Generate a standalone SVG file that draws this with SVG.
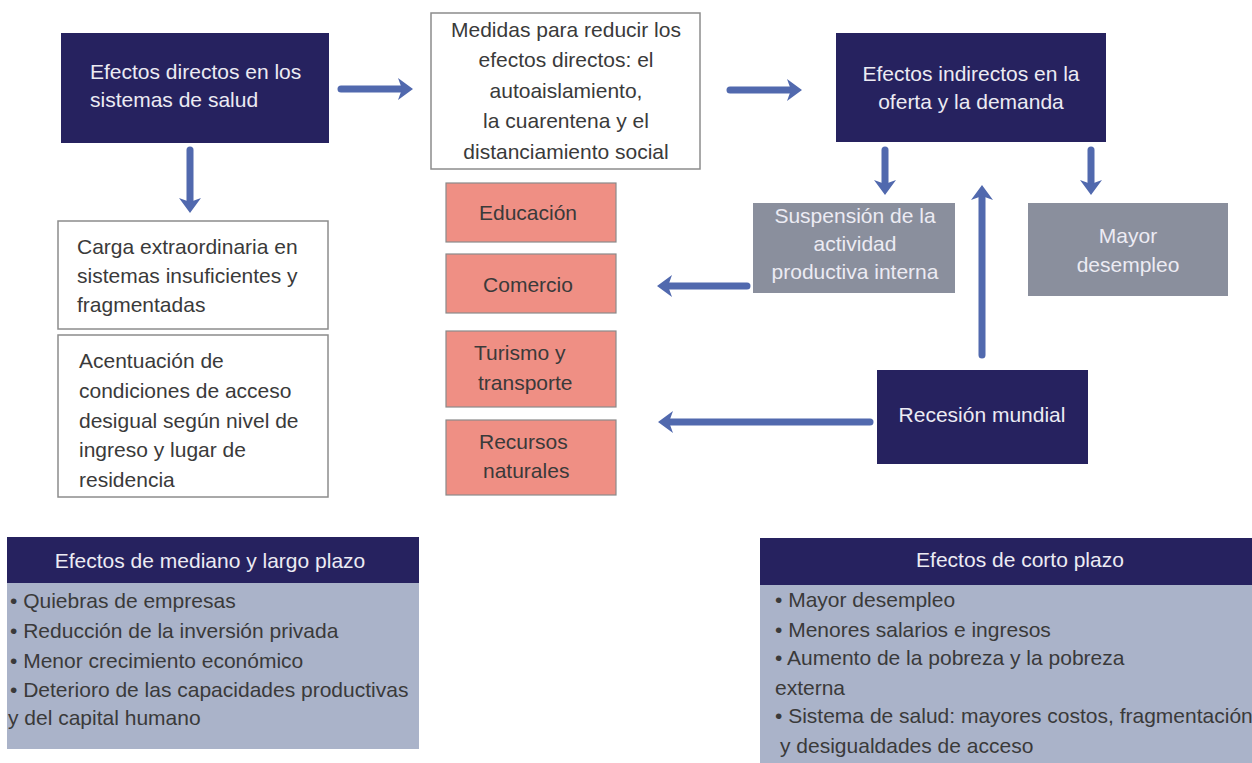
<svg xmlns="http://www.w3.org/2000/svg" width="1252" height="763" viewBox="0 0 1252 763">
<defs>
<style>
text{font-family:"Liberation Sans",Arial,sans-serif;font-size:21px}
.dark{fill:#26225f}
.wt{fill:#ecebf3}
.dk{fill:#3a3a3a}
.wbox{fill:#fff;stroke:#8c8c8c;stroke-width:1.5}
.sbox{fill:#ef8f84;stroke:#8a8a8a;stroke-width:1.2}
.gbox{fill:#8a8f9d}
.body{fill:#aab3c9}
.c{text-anchor:middle}
.conn{stroke:#5169ae;stroke-width:7;stroke-linecap:round;fill:none;marker-end:url(#ah)}
</style>
<marker id="ah" markerUnits="userSpaceOnUse" viewBox="-8 -12 17 24" markerWidth="17" markerHeight="24" refX="0" refY="0" orient="auto">
<path d="M-7,-11 L8,0 L-7,11 L-3,0 Z" fill="#5169ae"/>
</marker>
</defs>
<rect width="1252" height="763" fill="#fff"/>

<g id="connectors">
<path class="conn" d="M341,89 H405"/>
<path class="conn" d="M730,90 H794"/>
<path class="conn" d="M190,150 V205"/>
<path class="conn" d="M885,150 V187"/>
<path class="conn" d="M1091,150 V187"/>
<path class="conn" d="M982,355 V193"/>
<path class="conn" d="M747,286 H665"/>
<path class="conn" d="M870,422 H666"/>
</g>

<g id="n-directos">
<rect class="dark" x="61" y="33" width="268" height="110"/>
<text class="wt" x="90" y="79">Efectos directos en los</text>
<text class="wt" x="90" y="107">sistemas de salud</text>
</g>

<g id="n-medidas">
<rect class="wbox" x="431" y="13" width="269" height="156"/>
<text class="dk c" x="566" y="37">Medidas para reducir los</text>
<text class="dk c" x="566" y="67">efectos directos: el</text>
<text class="dk c" x="566" y="97.5">autoaislamiento,</text>
<text class="dk c" x="566" y="128">la cuarentena y el</text>
<text class="dk c" x="566" y="158.5">distanciamiento social</text>
</g>

<g id="n-indirectos">
<rect class="dark" x="836" y="33" width="270" height="109"/>
<text class="wt c" x="971" y="81">Efectos indirectos en la</text>
<text class="wt c" x="971" y="109">oferta y la demanda</text>
</g>

<g id="n-carga">
<rect class="wbox" x="58" y="221" width="270" height="108"/>
<text class="dk" x="77" y="254">Carga extraordinaria en</text>
<text class="dk" x="77" y="283">sistemas insuficientes y</text>
<text class="dk" x="77" y="312">fragmentadas</text>
</g>

<g id="n-acentuacion">
<rect class="wbox" x="58" y="335" width="270" height="162"/>
<text class="dk" x="79" y="368">Acentuación de</text>
<text class="dk" x="79" y="398">condiciones de acceso</text>
<text class="dk" x="79" y="428">desigual según nivel de</text>
<text class="dk" x="79" y="457">ingreso y lugar de</text>
<text class="dk" x="79" y="487">residencia</text>
</g>

<g id="n-educacion">
<rect class="sbox" x="446" y="183" width="170" height="59"/>
<text class="dk c" x="528" y="220">Educación</text>
</g>
<g id="n-comercio">
<rect class="sbox" x="446" y="254" width="170" height="59"/>
<text class="dk c" x="528" y="292">Comercio</text>
</g>
<g id="n-turismo">
<rect class="sbox" x="446" y="331" width="170" height="76"/>
<text class="dk" x="474" y="360">Turismo y</text>
<text class="dk" x="478" y="390">transporte</text>
</g>
<g id="n-recursos">
<rect class="sbox" x="446" y="420" width="170" height="75"/>
<text class="dk" x="479" y="449">Recursos</text>
<text class="dk" x="483" y="478">naturales</text>
</g>

<g id="n-suspension">
<rect class="gbox" x="753" y="203" width="202" height="90"/>
<text class="wt c" x="855" y="223">Suspensión de la</text>
<text class="wt c" x="855" y="251">actividad</text>
<text class="wt c" x="855" y="279">productiva interna</text>
</g>

<g id="n-desempleo">
<rect class="gbox" x="1028" y="203" width="200" height="93"/>
<text class="wt c" x="1128" y="243">Mayor</text>
<text class="wt c" x="1128" y="272">desempleo</text>
</g>

<g id="n-recesion">
<rect class="dark" x="877" y="370" width="211" height="94"/>
<text class="wt c" x="982" y="422">Recesión mundial</text>
</g>

<g id="n-mediano">
<rect class="body" x="7" y="583" width="412" height="166"/>
<rect class="dark" x="7" y="537" width="412" height="46"/>
<text class="wt c" x="210" y="568">Efectos de mediano y largo plazo</text>
<text class="dk" x="10" y="608">• Quiebras de empresas</text>
<text class="dk" x="10" y="638">• Reducción de la inversión privada</text>
<text class="dk" x="10" y="668">• Menor crecimiento económico</text>
<text class="dk" x="10" y="697">• Deterioro de las capacidades productivas</text>
<text class="dk" x="8" y="725">y del capital humano</text>
</g>

<g id="n-corto">
<rect class="body" x="760" y="585" width="492" height="178"/>
<rect class="dark" x="760" y="538" width="492" height="47"/>
<text class="wt c" x="1020" y="567">Efectos de corto plazo</text>
<text class="dk" x="775" y="607">• Mayor desempleo</text>
<text class="dk" x="775" y="637">• Menores salarios e ingresos</text>
<text class="dk" x="775" y="665">• Aumento de la pobreza y la pobreza</text>
<text class="dk" x="775" y="695">externa</text>
<text class="dk" x="775" y="723">• Sistema de salud: mayores costos, fragmentación</text>
<text class="dk" x="780" y="753">y desigualdades de acceso</text>
</g>
</svg>
